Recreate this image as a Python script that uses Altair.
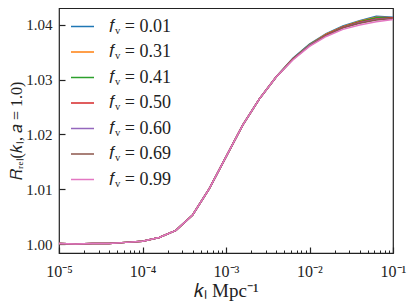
import altair as alt
import pandas as pd

k_values = [1.0e-5, 1.585e-5, 2.512e-5, 3.981e-5, 6.310e-5,
            1.0e-4, 1.585e-4, 2.512e-4, 3.981e-4, 6.310e-4,
            1.0e-3, 1.585e-3, 2.512e-3, 3.981e-3, 6.310e-3,
            1.0e-2, 1.585e-2, 2.512e-2, 3.981e-2, 6.310e-2, 1.0e-1]

shared_low = [1.0001, 1.0000, 1.0001, 1.0001, 1.0003, 1.0005, 1.0012,
              1.0025, 1.0053, 1.0101, 1.0159, 1.0217, 1.0265, 1.0305]

tails = {
    "0.01": [1.0339, 1.0365, 1.0384, 1.0398, 1.0408, 1.0416, 1.0414],
    "0.31": [1.0338, 1.0364, 1.0383, 1.0397, 1.0407, 1.0414, 1.0413],
    "0.41": [1.0338, 1.0364, 1.0382, 1.0396, 1.0406, 1.0413, 1.0413],
    "0.50": [1.0338, 1.0363, 1.0382, 1.0396, 1.0405, 1.0411, 1.0413],
    "0.60": [1.0337, 1.0363, 1.0381, 1.0395, 1.0404, 1.0410, 1.0412],
    "0.69": [1.0337, 1.0362, 1.0381, 1.0395, 1.0403, 1.0409, 1.0412],
    "0.99": [1.0336, 1.0361, 1.0379, 1.0392, 1.0400, 1.0406, 1.0410],
}
colors = ["#1f77b4", "#ff7f0e", "#2ca02c", "#d62728", "#9467bd", "#8c564b", "#e377c2"]

major_ticks = [1e-5, 1e-4, 1e-3, 1e-2, 1e-1]
minor_ticks = [m * 10.0 ** e for e in range(-5, -1) for m in range(2, 10)]
y_ticks = [1.00, 1.01, 1.02, 1.03, 1.04]

rows = []
labels = []
for fnu, tail in tails.items():
    lab = "𝑓ᵥ = " + fnu
    labels.append(lab)
    ys = shared_low + tail
    for kk, yy in zip(k_values, ys):
        rows.append({"k": kk, "R": yy, "label": lab})
df = pd.DataFrame(rows)

FONT = "Liberation Serif"
INK = "#222222"
xscale = alt.Scale(type="log", domain=[1e-5, 1e-1], nice=False)
yscale = alt.Scale(domain=[0.99836, 1.0431], nice=False, zero=False)

sup = "{'-5':'10⁻⁵','-4':'10⁻⁴','-3':'10⁻³','-2':'10⁻²','-1':'10⁻¹'}[''+round(log(datum.value)/LN10)]"

y_enc = alt.Y("R:Q", scale=yscale,
              axis=alt.Axis(values=y_ticks, format=".2f", title="𝑅ᵣₑₗ(𝑘ₗ, 𝑎 = 1.0)",
                            offset=-6, tickSize=6, tickWidth=1.2, tickColor=INK,
                            domain=False, grid=False, labelFont=FONT, labelFontSize=15,
                            labelColor=INK, labelPadding=7, titleFont=FONT,
                            titleFontSize=16, titleFontWeight="normal", titleColor=INK,
                            titlePadding=1))

main = alt.Chart(df).mark_line(strokeWidth=1.5).encode(
    x=alt.X("k:Q", scale=xscale,
            axis=alt.Axis(values=major_ticks, labelExpr=sup, title="𝑘ₗ Mpc⁻¹",
                          offset=-6, tickSize=6, tickWidth=1.2, tickColor=INK,
                          domain=False, grid=False, labelFont=FONT, labelFontSize=16,
                          labelColor=INK, labelPadding=10, titleFont=FONT,
                          titleFontSize=19, titleFontWeight="normal", titleColor=INK,
                          titlePadding=2, orient="bottom", labelFlush=False)),
    y=y_enc,
    color=alt.Color("label:N", sort=labels,
                    scale=alt.Scale(domain=labels, range=colors),
                    legend=alt.Legend(title=None, orient="none", legendX=11, legendY=6,
                                      symbolType="stroke", symbolSize=530,
                                      symbolStrokeWidth=1.5, labelFont=FONT,
                                      labelFontSize=18, labelColor=INK,
                                      labelOffset=14, rowPadding=3.5, padding=0)),
)

minor = alt.Chart(df).mark_line(opacity=0).encode(
    x=alt.X("k:Q", scale=xscale,
            axis=alt.Axis(values=minor_ticks, labels=False, title=None,
                          offset=-3, tickSize=3, tickWidth=1, tickColor=INK,
                          domain=False, grid=False, orient="bottom")),
    y=y_enc,
    detail="label:N",
)

chart = alt.layer(main, minor).resolve_axis(x="independent").properties(
    width=334, height=245,
    autosize=alt.AutoSizeParams(type="none"),
    padding={"left": 51, "top": 0, "right": 14, "bottom": 60},
).configure(background="white").configure_view(stroke=INK, strokeWidth=1.2)

chart.save("out.html", embed_options={"renderer": "svg", "actions": False})
